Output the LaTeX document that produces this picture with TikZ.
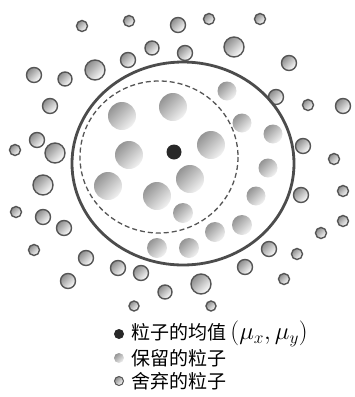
\documentclass[tikz,border=0pt]{standalone}
\usepackage{fontspec}
\usepackage{tikz}
\newfontfamily\cjk{Noto Sans CJK SC}
\definecolor{rimcol}{RGB}{85,85,85}
\definecolor{meancol}{RGB}{40,40,40}
\tikzset{
  drop/.style={draw=rimcol,line width=1.4pt,top color=black!45,bottom color=white,shading angle=45},
  keep/.style={top color=black!42,bottom color=black!5,shading angle=45},
  lab/.style={anchor=west,inner sep=0pt,font=\cjk\fontsize{19pt}{21pt}\selectfont},
}

\begin{document}
\begin{tikzpicture}[x=1pt,y=-1pt]
  \useasboundingbox (0,0) rectangle (355,397);
  % discarded particles
  \shade[drop] (82,26) circle (5.5);
  \shade[drop] (129,21) circle (5.5);
  \shade[drop] (178,25) circle (7.5);
  \shade[drop] (209,19) circle (5.5);
  \shade[drop] (260,19) circle (5.5);
  \shade[drop] (152,48) circle (7);
  \shade[drop] (185,53) circle (7.5);
  \shade[drop] (234,47) circle (10);
  \shade[drop] (128,60) circle (7.5);
  \shade[drop] (95,70) circle (10);
  \shade[drop] (34,75) circle (7.5);
  \shade[drop] (65,79) circle (7);
  \shade[drop] (289,63) circle (7.5);
  \shade[drop] (50,106) circle (7.5);
  \shade[drop] (276,97) circle (7.5);
  \shade[drop] (308,105) circle (5.5);
  \shade[drop] (343,106) circle (7.5);
  \shade[drop] (37,140) circle (7.5);
  \shade[drop] (15,150) circle (5.5);
  \shade[drop] (55,153) circle (10);
  \shade[drop] (303,146) circle (7.5);
  \shade[drop] (334,159) circle (5.5);
  \shade[drop] (43,185) circle (10);
  \shade[drop] (301,195) circle (7.5);
  \shade[drop] (343,191) circle (5.5);
  \shade[drop] (16,212) circle (5.5);
  \shade[drop] (43,217) circle (7.5);
  \shade[drop] (64,228) circle (7.5);
  \shade[drop] (343,221) circle (5.5);
  \shade[drop] (321,233) circle (5.5);
  \shade[drop] (34,250) circle (5.5);
  \shade[drop] (86,258) circle (7.5);
  \shade[drop] (269,249) circle (7.5);
  \shade[drop] (297,254) circle (5.5);
  \shade[drop] (118,268) circle (7.5);
  \shade[drop] (141,273) circle (7.5);
  \shade[drop] (245,267) circle (7.5);
  \shade[drop] (68,281) circle (7.5);
  \shade[drop] (284,279) circle (5.5);
  \shade[drop] (165,292) circle (7);
  \shade[drop] (201,284) circle (10);
  \shade[drop] (134,306) circle (5);
  \shade[drop] (211,306) circle (5);
  % kept particles
  \shade[keep] (227,91) circle (9.5);
  \shade[keep] (122,116) circle (14);
  \shade[keep] (173,107) circle (14);
  \shade[keep] (242,123) circle (9.5);
  \shade[keep] (273,134) circle (9.5);
  \shade[keep] (129,155) circle (14);
  \shade[keep] (211,145) circle (14);
  \shade[keep] (268,168) circle (9.5);
  \shade[keep] (190,179) circle (14);
  \shade[keep] (108,186) circle (14);
  \shade[keep] (157,196) circle (14);
  \shade[keep] (256,196) circle (9.5);
  \shade[keep] (183,213) circle (10);
  \shade[keep] (215,232) circle (10);
  \shade[keep] (242,225) circle (10);
  \shade[keep] (157,248) circle (10);
  \shade[keep] (189,248) circle (10);
  % boundaries
  \draw[rimcol!90!black,line width=2.8pt] (183,163.5) ellipse (111 and 101.5);
  \draw[rimcol,line width=1.3pt,dash pattern=on 5pt off 3pt] (159,157) ellipse (79 and 76);
  \fill[meancol] (174,152) circle (7.5);
  % legend
  \fill[meancol] (119,334) circle (5);
  \node[lab] (meantxt) at (131,334) {粒子的均值\ {\fontsize{23pt}{25pt}\selectfont$\bigl(\mu_x,\mu_y\bigr)$}};
  \shade[keep] (119,358) circle (5);
  \node[lab] (keeptxt) at (131,358) {保留的粒子};
  \shade[drop,line width=1pt] (119,381) circle (4.5);
  \node[lab] (droptxt) at (131,381) {舍弃的粒子};
\end{tikzpicture}
\end{document}
